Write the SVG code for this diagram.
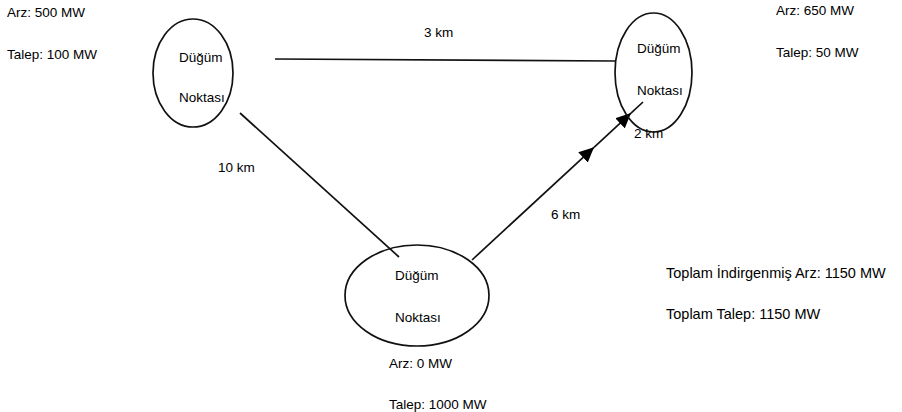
<svg xmlns="http://www.w3.org/2000/svg" width="902" height="412" viewBox="0 0 902 412">
  <style>
    .lbl { font-family: "Liberation Sans", Arial, sans-serif; font-size: 13.5px; fill: #000; }
    .big { font-size: 14.5px; }
    .node ellipse { fill: none; stroke: #111; stroke-width: 1.7; }
    .edge { stroke: #111; stroke-width: 1.7; fill: none; }
  </style>
  <defs>
    <marker id="arrow" markerUnits="userSpaceOnUse" markerWidth="16" markerHeight="14" refX="15" refY="7" orient="auto">
      <path d="M0,0 L15,7 L0,14 z" fill="#000"/>
    </marker>
  </defs>
  <rect width="902" height="412" fill="#fff"/>

  <!-- supply/demand of the left node -->
  <g id="left-info">
    <text class="lbl" x="7" y="17">Arz: 500 MW</text>
    <text class="lbl" x="7" y="59">Talep: 100 MW</text>
  </g>

  <!-- supply/demand of the right node -->
  <g id="right-info">
    <text class="lbl" x="776" y="15">Arz: 650 MW</text>
    <text class="lbl" x="776" y="57">Talep: 50 MW</text>
  </g>

  <!-- supply/demand of the bottom node -->
  <g id="bottom-info">
    <text class="lbl" x="389" y="368">Arz: 0 MW</text>
    <text class="lbl" x="389" y="409">Talep: 1000 MW</text>
  </g>

  <!-- totals -->
  <g id="totals">
    <text class="lbl big" x="666" y="278">Toplam İndirgenmiş Arz: 1150 MW</text>
    <text class="lbl big" x="666" y="319">Toplam Talep: 1150 MW</text>
  </g>

  <!-- connectors -->
  <g id="connectors">
    <line class="edge" x1="275" y1="59" x2="615" y2="61"/>
    <line class="edge" x1="240" y1="113" x2="399" y2="257"/>
    <line class="edge" x1="472" y1="260" x2="594" y2="147.3" marker-end="url(#arrow)"/>
    <line class="edge" x1="594" y1="147.3" x2="631" y2="113.1" marker-end="url(#arrow)"/>
    <line class="edge" x1="631" y1="113.1" x2="643" y2="102"/>
    <text class="lbl" x="424" y="37">3 km</text>
    <text class="lbl" x="218" y="172">10 km</text>
    <text class="lbl" x="551" y="219">6 km</text>
    <text class="lbl" x="634" y="138">2 km</text>
  </g>

  <!-- nodes -->
  <g id="node-left" class="node">
    <ellipse cx="193" cy="73" rx="40" ry="54"/>
    <text class="lbl" x="179" y="62">Düğüm</text>
    <text class="lbl" x="179" y="102">Noktası</text>
  </g>
  <g id="node-right" class="node">
    <ellipse cx="653.5" cy="72.5" rx="38.5" ry="59.5"/>
    <text class="lbl" x="637" y="53">Düğüm</text>
    <text class="lbl" x="637" y="95">Noktası</text>
  </g>
  <g id="node-bottom" class="node">
    <ellipse cx="417" cy="295.5" rx="72" ry="50.5"/>
    <text class="lbl" x="395" y="280">Düğüm</text>
    <text class="lbl" x="395" y="322">Noktası</text>
  </g>
</svg>
